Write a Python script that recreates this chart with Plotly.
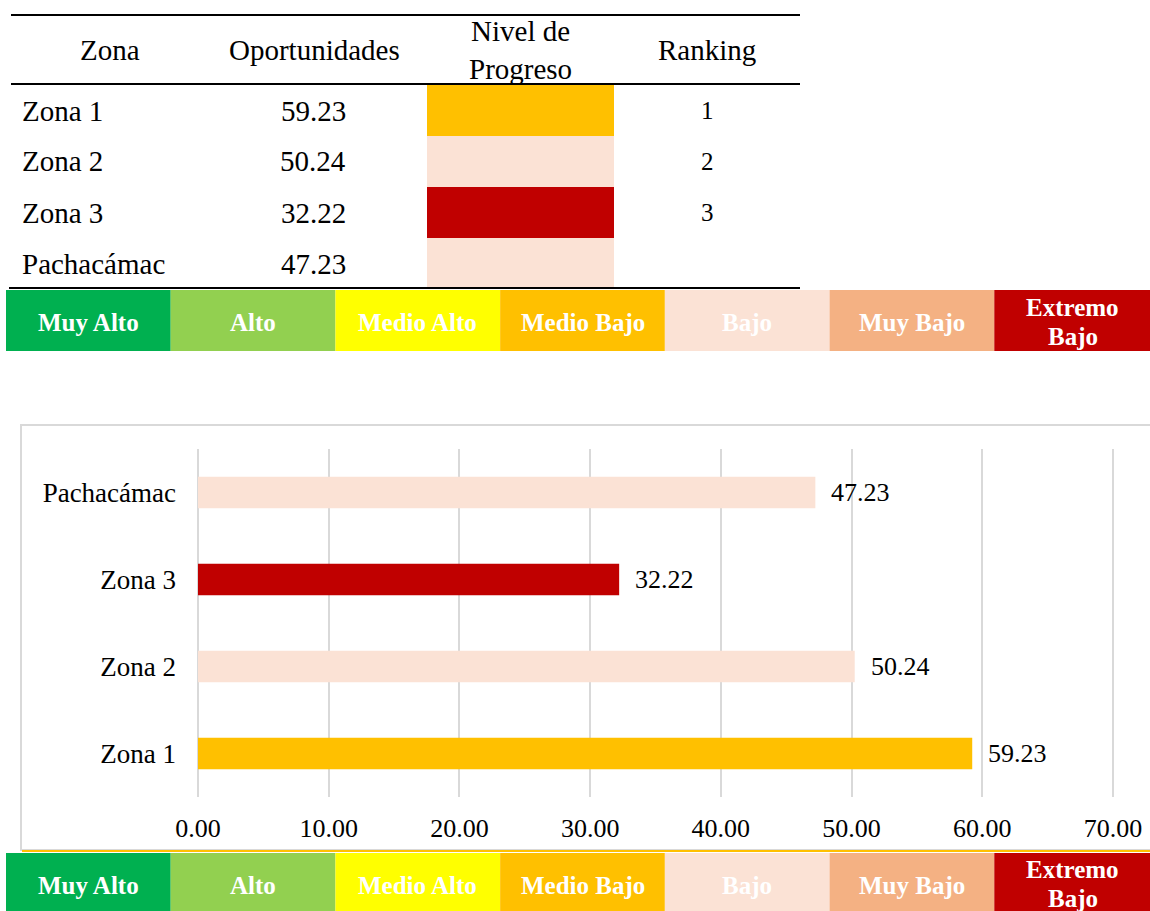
import plotly.graph_objects as go

# ---------------- data ----------------
zonas = ["Zona 1", "Zona 2", "Zona 3", "Pachacámac"]
oportunidades = [59.23, 50.24, 32.22, 47.23]
niveles = ["Medio Bajo", "Bajo", "Extremo Bajo", "Bajo"]
ranking = ["1", "2", "3", ""]
levels = ["Muy Alto", "Alto", "Medio Alto", "Medio Bajo", "Bajo", "Muy Bajo", "Extremo Bajo"]
level_colors = ["#00B050", "#92D050", "#FFFF00", "#FFC000", "#FBE2D5", "#F4B183", "#C00000"]
headers = ["Zona", "Oportunidades", "Nivel de<br>Progreso", "Ranking"]
x_ticks = [0, 10, 20, 30, 40, 50, 60, 70]

color_of = dict(zip(levels, level_colors))
bar_colors = [color_of[n] for n in niveles]

W, H = 1150, 911
FONT = "Liberation Serif, Times New Roman, serif"


def px(x):
    return x / W


def py(y):
    return 1 - y / H


shapes = []
annotations = []


def line(x0, y0, x1, y1, color="black", width=2):
    shapes.append(dict(type="line", xref="paper", yref="paper",
                       x0=px(x0), y0=py(y0), x1=px(x1), y1=py(y1),
                       line=dict(color=color, width=width)))


def rect(x0, y0, x1, y1, fill, lc=None, lw=0, layer="below"):
    shapes.append(dict(type="rect", xref="paper", yref="paper",
                       x0=px(x0), y0=py(y0), x1=px(x1), y1=py(y1),
                       fillcolor=fill, layer=layer,
                       line=dict(color=lc if lc else fill, width=lw)))


def text(x, y, s, size, xanchor="center", color="black", bold=False):
    annotations.append(dict(xref="paper", yref="paper", x=px(x), y=py(y), text=s,
                            showarrow=False, xanchor=xanchor, yanchor="middle",
                            font=dict(family=FONT, size=size, color=color,
                                      weight="bold" if bold else "normal")))


# ---------------- table ----------------
TFS = 29
line(11, 15, 800, 15)
line(11, 84, 800, 84)
line(9, 288, 800, 288)
header_x = [110, 315, 520, 707]
for hx, h in zip(header_x, headers):
    text(hx, 50, h, TFS)

row_top = 85
row_h = 51
for i, z in enumerate(zonas):
    y0 = row_top + i * row_h
    yc = y0 + row_h / 2
    rect(427, y0, 614, y0 + row_h, color_of[niveles[i]])
    text(20, yc, z, TFS, xanchor="left")
    text(348, yc, f"{oportunidades[i]:.2f}", TFS, xanchor="right")
    text(707, yc, ranking[i], TFS - 4)


# ---------------- legend strips ----------------
LFS = 25


def legend_strip(y0, y1, yc, y_two):
    x0 = 6
    seg = (1150 - 6 + 9) / 7
    for j, (lv, c) in enumerate(zip(levels, level_colors)):
        a = x0 + j * seg
        b = min(x0 + (j + 1) * seg, 1150)
        rect(a, y0, b, y1, c)
        xc = (a + b) / 2 if j < 6 else (a + 1150 + 9) / 2 - 4
        if lv == "Extremo Bajo":
            text(xc, y_two[0], "Extremo", LFS, color="white", bold=True)
            text(xc, y_two[1], "Bajo", LFS, color="white", bold=True)
        else:
            text(xc, yc, lv, LFS, color="white", bold=True)


legend_strip(290, 351, 322, (307, 337))
legend_strip(853, 911, 885, (869, 898))

# chart box + thin line
rect(21, 425, 1160, 850, "white", lc="#D9D9D9", lw=2)
line(22, 851, 1150, 851, color="#FFC000", width=2)

# ---------------- bar chart ----------------
CFS = 26
fig = go.Figure()
fig.add_trace(go.Bar(
    y=zonas, x=oportunidades, orientation="h",
    marker=dict(color=bar_colors, line=dict(width=0)),
    width=0.36, hoverinfo="skip",
))

for z, v in zip(zonas, oportunidades):
    annotations.append(dict(xref="x", yref="y", x=v, y=z, text=f"{v:.2f}",
                            showarrow=False, xanchor="left", yanchor="middle",
                            xshift=14, font=dict(family=FONT, size=CFS, color="black")))

pad = 0.12  # small pad so the 0 and 70 gridlines are drawn
unit = (1113 - 198) / 70
fig.update_layout(
    width=W, height=H,
    margin=dict(l=0, r=0, t=0, b=0, pad=0, autoexpand=False),
    paper_bgcolor="white", plot_bgcolor="rgba(0,0,0,0)",
    showlegend=False,
    font=dict(family=FONT, size=CFS, color="black"),
    shapes=shapes, annotations=annotations,
    xaxis=dict(domain=[px(198 - pad * unit), px(1113 + pad * unit)],
               range=[-pad, 70 + pad], tickvals=x_ticks,
               tickformat=".2f", showgrid=True, gridcolor="#D9D9D9", gridwidth=1.5,
               zeroline=False, showline=False, ticks="outside", ticklen=8,
               tickcolor="rgba(0,0,0,0)", tickfont=dict(size=CFS), fixedrange=True,
               automargin=False),
    yaxis=dict(domain=[py(797), py(449)], range=[-0.5, 3.5],
               categoryorder="array", categoryarray=zonas,
               showgrid=False, zeroline=False, showline=False,
               ticks="outside", ticklen=14, tickcolor="rgba(0,0,0,0)",
               tickfont=dict(size=CFS + 1), fixedrange=True, automargin=False),
)

fig.write_html("out.html", config={"displayModeBar": False},
               post_script="document.body.style.margin='0';document.body.style.padding='0';")
